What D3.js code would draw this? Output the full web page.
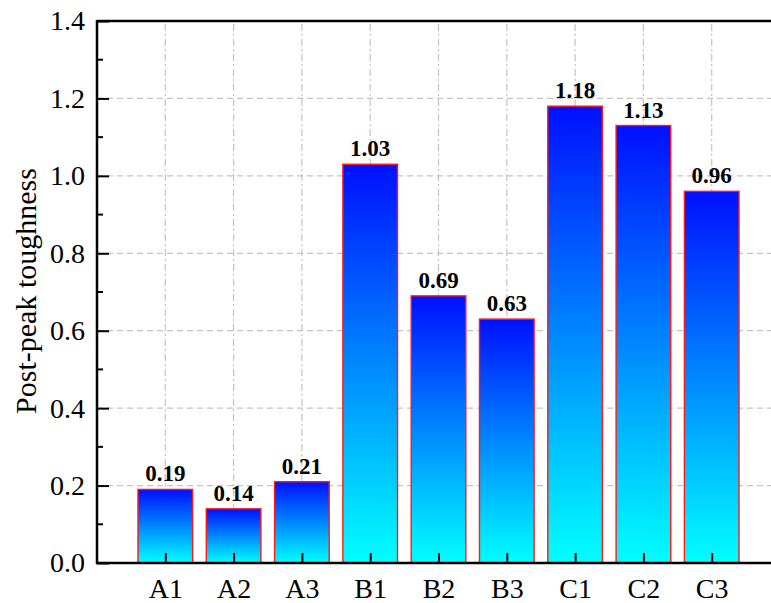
<!DOCTYPE html>
<html><head><meta charset="utf-8">
<script src="https://cdn.jsdelivr.net/npm/d3@7"></script>
<style>body{margin:0;background:#fff}svg{display:block}</style>
</head><body>
<script>
const categories = ["A1","A2","A3","B1","B2","B3","C1","C2","C3"];
const values = [0.19,0.14,0.21,1.03,0.69,0.63,1.18,1.13,0.96];
const yTicks = [0,0.2,0.4,0.6,0.8,1.0,1.2,1.4];
const yLabel = "Post-peak toughness";

const W = 771, H = 603;
const mLeft = 97, mTop = 21, mBottom = 563;
const step = 68.3;
const svg = d3.select("body").append("svg").attr("width", W).attr("height", H);
const font = "'Liberation Serif','Times New Roman',serif";

const x = d3.scaleLinear().domain([0, 10]).range([mLeft, mLeft + step * 10]);
const y = d3.scaleLinear().domain([0, 1.4]).range([mBottom, mTop]);

const defs = svg.append("defs");
const g = defs.append("linearGradient").attr("id","grad").attr("x1",0).attr("y1",0).attr("x2",0).attr("y2",1);
g.append("stop").attr("offset","0%").attr("stop-color","#0010ff");
g.append("stop").attr("offset","100%").attr("stop-color","#00ffff");

// grid
const grid = svg.append("g");
grid.selectAll("line.h").data(yTicks.slice(1, -1)).join("line")
  .attr("x1", mLeft).attr("x2", W).attr("y1", d => y(d)).attr("y2", d => y(d))
  .attr("stroke", "#c4c4c4").attr("stroke-width", 1.2).attr("stroke-dasharray", "6,4");
grid.selectAll("line.v").data(categories).join("line")
  .attr("x1", (d,i) => x(i+1)).attr("x2", (d,i) => x(i+1))
  .attr("y1", mTop + 3).attr("y2", mBottom)
  .attr("stroke", "#c4c4c4").attr("stroke-width", 1.2).attr("stroke-dasharray", "7,3,2,3");

// bars
const bw = step * 0.8;
svg.selectAll("rect.bar").data(values).join("rect")
  .attr("x", (d,i) => x(i+1) - bw/2).attr("width", bw)
  .attr("y", d => y(d)).attr("height", d => mBottom - y(d))
  .attr("fill", "url(#grad)").attr("stroke", "#ff1a1a").attr("stroke-width", 1.4);

svg.selectAll("text.val").data(values).join("text")
  .attr("x", (d,i) => x(i+1)).attr("y", d => y(d) - 8)
  .attr("text-anchor","middle").attr("font-family", font).attr("font-weight","bold")
  .attr("font-size", 23).text(d => d.toFixed(2));

// axes
const yAxis = d3.axisLeft(y).tickValues(yTicks).tickSize(-12).tickPadding(12).tickFormat(d3.format(".1f"));
const yg = svg.append("g").attr("transform", `translate(${mLeft},0)`).call(yAxis);
yg.select(".domain").remove();
yg.selectAll("line").attr("stroke","#000").attr("stroke-width",2);
yg.selectAll("text").attr("font-family", font).attr("font-size", 28).attr("fill","#000");
// minor ticks
svg.append("g").selectAll("line").data(d3.range(0.1, 1.4, 0.2)).join("line")
  .attr("x1", mLeft).attr("x2", mLeft + 6).attr("y1", d => y(d)).attr("y2", d => y(d))
  .attr("stroke","#000").attr("stroke-width",2);

const xAxis = d3.axisBottom(x).tickValues(d3.range(1, 10)).tickSize(-10).tickPadding(15)
  .tickFormat(d => categories[d-1]);
const xg = svg.append("g").attr("transform", `translate(0,${mBottom})`).call(xAxis);
xg.select(".domain").remove();
xg.selectAll("line").attr("stroke","#000").attr("stroke-width",2);
xg.selectAll("text").attr("font-family", font).attr("font-size", 28).attr("fill","#000");

// frame
svg.append("line").attr("x1", mLeft).attr("x2", W).attr("y1", mTop).attr("y2", mTop).attr("stroke","#000").attr("stroke-width",2.5);
svg.append("line").attr("x1", mLeft - 1).attr("x2", W).attr("y1", mBottom).attr("y2", mBottom).attr("stroke","#000").attr("stroke-width",2.5);
svg.append("line").attr("x1", mLeft).attr("x2", mLeft).attr("y1", mTop - 1).attr("y2", mBottom + 1).attr("stroke","#000").attr("stroke-width",2.5);

svg.append("text").attr("transform", `translate(36,291) rotate(-90)`)
  .attr("text-anchor","middle").attr("font-family", font).attr("font-size", 30).text(yLabel);
</script>
</body></html>
